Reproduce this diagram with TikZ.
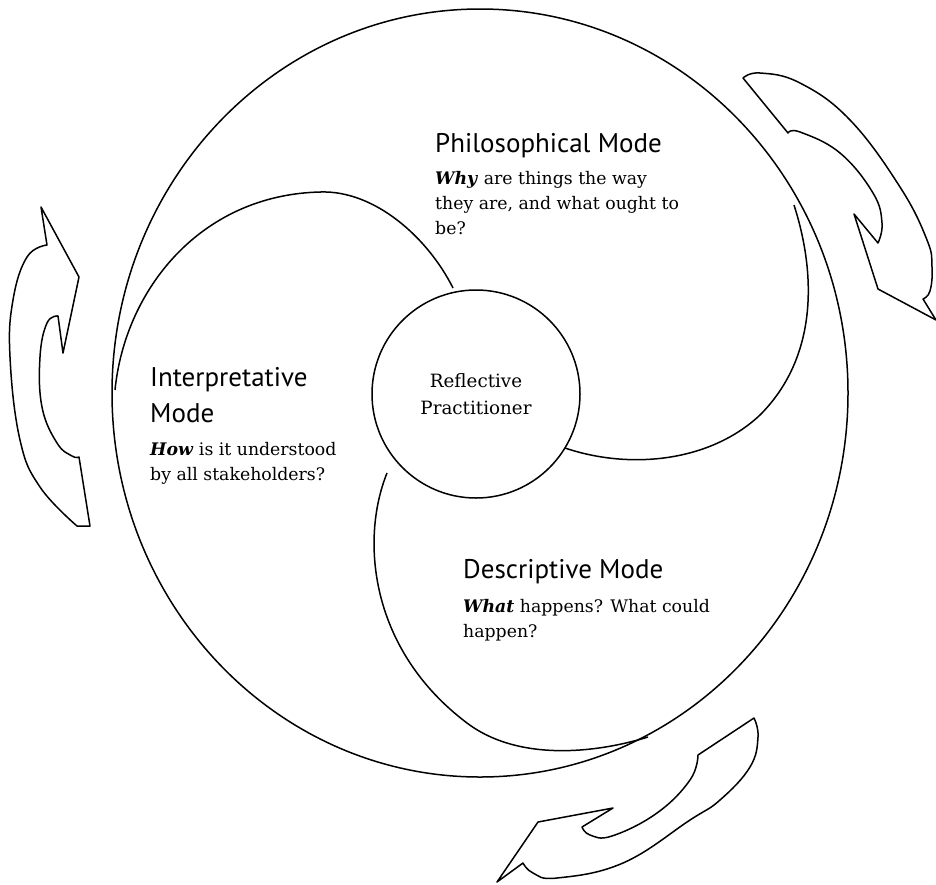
\documentclass[tikz,border=0pt]{standalone}
\usepackage{fontspec}
\setmainfont{DejaVu Serif}
\newfontfamily\headfont{PT Sans}
\begin{document}
\begin{tikzpicture}[x=1pt,y=-1pt,line join=round,
  outl/.style={draw=black, line width=1.5pt},
  head/.style={font=\headfont\fontsize{27}{30}\selectfont, anchor=base west, inner sep=0pt},
  body/.style={font=\fontsize{17.3}{20}\selectfont, anchor=base west, inner sep=0pt}]
\useasboundingbox (0,0) rectangle (936,884);
% big outline
\draw[outl] (480,393) ellipse [x radius=368pt, y radius=384pt];
% centre circle
\node[outl, circle, minimum size=208pt, inner sep=0pt, align=center,
      font=\fontsize{18.3}{27}\selectfont] (rp) at (476,394) {Reflective\\Practitioner};
% swirl curves
\draw[outl] (794,205) .. controls (818,280) and (815,360) .. (760,415)
                      .. controls (710,462) and (630,470) .. (565,448);
\draw[outl] (115,390) .. controls (125,290) and (200,195) .. (320,192)
                      .. controls (375,190) and (428,238) .. (453,288);
\draw[outl] (387,473) .. controls (360,540) and (370,650) .. (467,723)
                      .. controls (520,763) and (600,752) .. (648,737);
% top-right arrow
\draw[outl] (743,78) -- plot[smooth, tension=0.7] coordinates {(788,133) (800,132) (840,153) (873,193) (882,223) (878,243)}
  -- (854,214) -- (878,289) -- (936,320)
  -- plot[smooth, tension=0.7] coordinates {(923,299) (930,291) (932,267) (927,240) (900,187) (850,120) (800,83) (760,73) (743,78)} -- cycle;
% left arrow
\draw[outl] (41,207) -- (79,277) -- (63,353)
  -- plot[smooth, tension=0.7] coordinates {(58,316) (47,323) (40,357) (42,407) (57,443) (72,456) (79,457)}
  -- (90,526)
  -- plot[smooth, tension=0.7] coordinates {(77,526) (40,487) (20,440) (10,357) (13,300) (27,257) (47,245)} -- cycle;
% bottom arrow
\draw[outl] (497,882) -- (538,822) -- (613,808)
  -- plot[smooth, tension=0.7] coordinates {(582,827) (590,835) (612,836) (657,813) (690,780) (698,755)}
  -- (754,718)
  -- plot[smooth, tension=0.7] coordinates {(754,718) (758,737) (750,767) (720,800) (690,820) (623,863) (557,878) (533,873) (523,863)} -- cycle;
% texts
\node[head] (ph1) at (435,152) {Philosophical Mode};
\node[body] (pb1) at (435,184) {\textbf{\textit{Why}} are things the way};
\node[body] (pb2) at (435,209) {they are, and what ought to};
\node[body] (pb3) at (435,234) {be?};
\node[head] (ih1) at (150,386) {Interpretative};
\node[head] (ih2) at (150,422) {Mode};
\node[body] (ib1) at (150,455) {\textbf{\textit{How}} is it understood};
\node[body] (ib2) at (150,480) {by all stakeholders?};
\node[head] (dh1) at (463,578) {Descriptive Mode};
\node[body] (db1) at (463,612) {\textbf{\textit{What}} happens? What could};
\node[body] (db2) at (463,637) {happen?};
\end{tikzpicture}
\end{document}
